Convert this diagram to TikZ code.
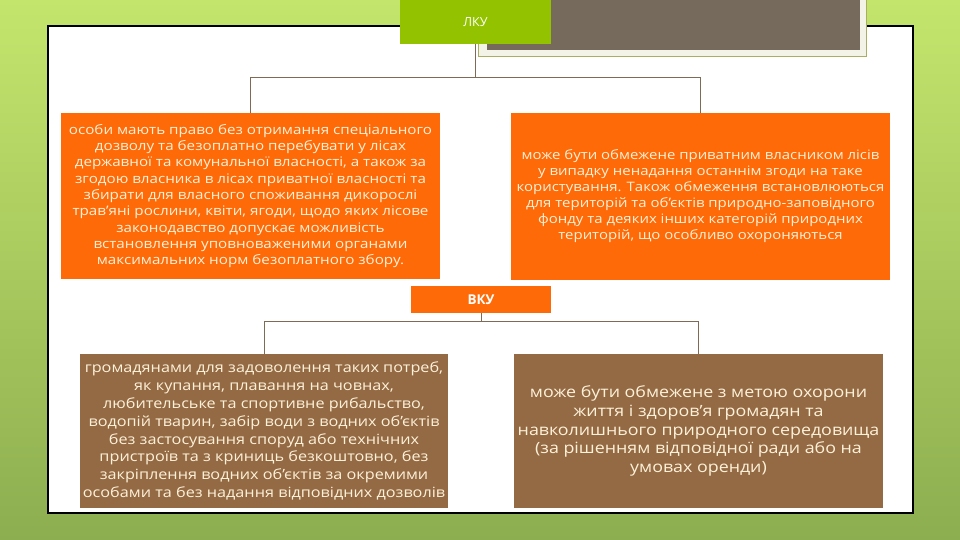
\documentclass[tikz,border=0pt]{standalone}
\usepackage{fontspec}
\setmainfont{Open Sans}[FakeStretch=1.15]
\newfontfamily\labelfont{Open Sans}
\definecolor{bgtop}{HTML}{C4E56C}
\definecolor{bgbot}{HTML}{8DAE50}
\definecolor{lkugreen}{HTML}{93C300}
\definecolor{orangebox}{HTML}{FE6A08}
\definecolor{brownbox}{HTML}{946A45}
\definecolor{greydeco}{HTML}{756A5B}
\definecolor{framecol}{HTML}{F4F3E8}
\definecolor{frameline}{HTML}{A9AE62}
\definecolor{linkcol}{HTML}{7D6B55}
\definecolor{txtcol}{HTML}{FDF1D8}
\begin{document}
\begin{tikzpicture}[x=1pt,y=-1pt,
  box/.style={rectangle,inner sep=0pt,align=center,text=txtcol},
  orangebox/.style={box,fill=orangebox},
  brownbox/.style={box,fill=brownbox},
  link/.style={draw=linkcol,line width=0.8pt}]
% background
\shade[top color=bgtop,bottom color=bgbot] (0,0) rectangle (960,540);
\useasboundingbox (0,0) rectangle (960,540);
% white panel
\draw[fill=white,line width=1.1pt] (48,26) rectangle (913,513);
% top decoration
\draw[fill=framecol,draw=frameline,line width=0.6pt] (478,-2) rectangle (866,56);
\fill[greydeco] (487,0) rectangle (860,50);
% top box
\node[box,fill=lkugreen,minimum width=151pt,minimum height=44pt,
  font=\labelfont\fontsize{12.5}{14}\selectfont,text=white] (lku) at (475.5,22) {ЛКУ};
% orange boxes
\node[orangebox,minimum width=379pt,minimum height=166pt,
  font=\fontsize{13.2}{16.3}\selectfont] (oleft) at (250.5,196) {особи мають право без отримання спеціального\\
дозволу та безоплатно перебувати у лісах\\
державної та комунальної власності, а також за\\
згодою власника в лісах приватної власності та\\
збирати для власного споживання дикорослі\\
трав'яні рослини, квіти, ягоди, щодо яких лісове\\
законодавство допускає можливість\\
встановлення уповноваженими органами\\
максимальних норм безоплатного збору.};
\node[orangebox,minimum width=379pt,minimum height=167pt,
  font=\fontsize{13}{16}\selectfont] (oright) at (700.5,196.5) {може бути обмежене приватним власником лісів\\
у випадку ненадання останнім згоди на таке\\
користування. Також обмеження встановлюються\\
для територій та об'єктів природно-заповідного\\
фонду та деяких інших категорій природних\\
територій, що особливо охороняються};
% VKU box
\node[orangebox,minimum width=140pt,minimum height=27pt,
  font=\labelfont\fontsize{13.5}{15}\selectfont\bfseries,text=white] (vku) at (481,299.5) {ВКУ};
% brown boxes
\node[brownbox,minimum width=368pt,minimum height=154pt,
  font=\fontsize{14.1}{17.9}\selectfont] (bleft) at (264,431) {громадянами для задоволення таких потреб,\\
як купання, плавання на човнах,\\
любительське та спортивне рибальство,\\
водопій тварин, забір води з водних об'єктів\\
без застосування споруд або технічних\\
пристроїв та з криниць безкоштовно, без\\
закріплення водних об'єктів за окремими\\
особами та без надання відповідних дозволів};
\node[brownbox,minimum width=369pt,minimum height=154pt,
  font=\fontsize{15.5}{18.7}\selectfont] (bright) at (698.5,431) {може бути обмежене з метою охорони\\
життя і здоров'я громадян та\\
навколишнього природного середовища\\
(за рішенням відповідної ради або на\\
умовах оренди)};
% connectors
\coordinate (j1) at (475.5,77);
\coordinate (j2) at (481,321);
\draw[link] (lku.south) -- (j1) -| (oleft.north);
\draw[link] (j1) -| (oright.north);
\draw[link] (vku.south) -- (j2) -| (bleft.north);
\draw[link] (j2) -| (bright.north);
\end{tikzpicture}
\end{document}
